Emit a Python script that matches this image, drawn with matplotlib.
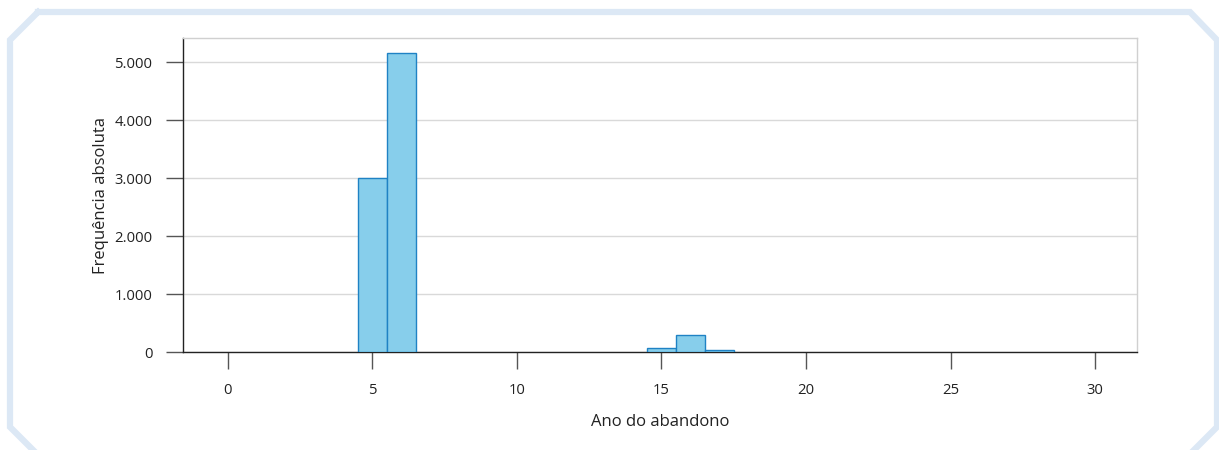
import matplotlib
matplotlib.use("Agg")
import matplotlib.pyplot as plt
from matplotlib.lines import Line2D
from matplotlib.ticker import FuncFormatter

# Data
anos = [5, 6, 15, 16, 17]
frequencias = [3000, 5150, 65, 290, 30]
x_ticks = [0, 5, 10, 15, 20, 25, 30]
y_ticks = [0, 1000, 2000, 3000, 4000, 5000]
x_label = "Ano do abandono"
y_label = "Frequência absoluta"

plt.rcParams['font.family'] = ['Open Sans', 'DejaVu Sans']

W, H = 1219, 450
fig = plt.figure(figsize=(W / 100, H / 100), dpi=100)

def fx(px):
    return px / W

def fy(py):
    return 1 - py / H

# decorative frame
frame_pts = [(38, 12), (1190, 12), (1217, 40), (1217, 427), (1192, 452),
             (35, 452), (10, 427), (10, 40), (38, 12)]
fig.add_artist(Line2D([fx(p[0]) for p in frame_pts], [fy(p[1]) for p in frame_pts],
                      color="#dce8f5", lw=4.5, solid_joinstyle="miter"))

ax = fig.add_axes([fx(183), fy(352), fx(1137) - fx(183), fy(38) - fy(352)])

ax.bar(anos, frequencias, width=1.0, color="#87ceeb", edgecolor="#1f82c4",
       linewidth=1.0, zorder=3)

ax.set_xlim(-1.55, 31.45)
ax.set_ylim(0, 5414)
ax.set_xticks(x_ticks)
ax.set_yticks(y_ticks)
ax.yaxis.set_major_formatter(FuncFormatter(lambda v, p: f"{int(v):,}".replace(",", ".")))

ax.grid(axis="y", color="#d9d9d9", lw=1.0, zorder=0)
ax.set_axisbelow(True)

for s in ["top", "right"]:
    ax.spines[s].set_color("#d0d0d0")
    ax.spines[s].set_linewidth(1.0)
for s in ["left", "bottom"]:
    ax.spines[s].set_color("#222222")
    ax.spines[s].set_linewidth(1.0)

ax.tick_params(axis="both", direction="out", length=12, width=1.0, color="#555555",
               labelsize=10.7, labelcolor="#222222")
ax.tick_params(axis="y", pad=10)
ax.tick_params(axis="x", pad=10)

ax.set_xlabel(x_label, fontsize=12, color="#222222", labelpad=12)
ax.set_ylabel(y_label, fontsize=12, color="#222222", labelpad=4)

fig.savefig("out.png", dpi=100)
